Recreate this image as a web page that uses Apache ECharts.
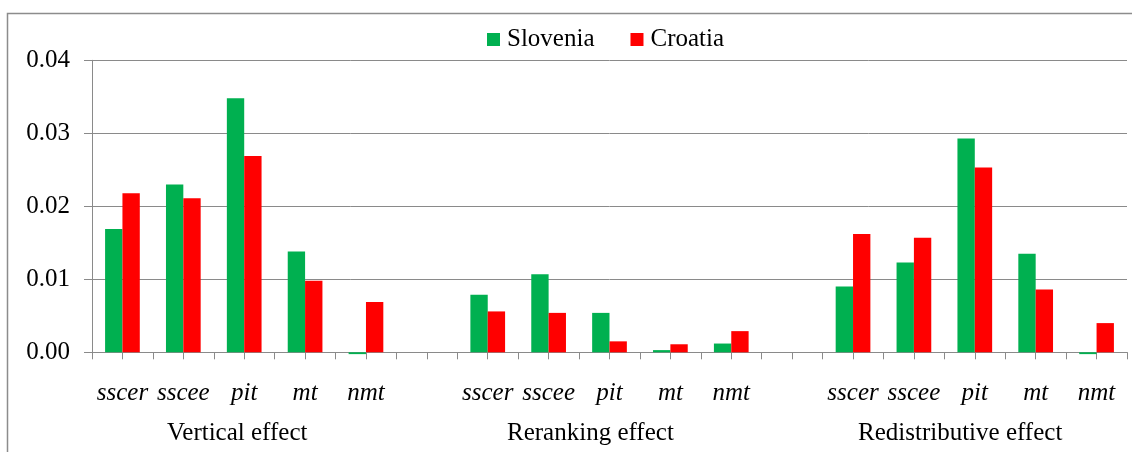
<!DOCTYPE html>
<html>
<head>
<meta charset="utf-8">
<script src="https://cdn.jsdelivr.net/npm/echarts@6/dist/echarts.min.js"></script>
<style>
html,body{margin:0;padding:0;background:#fff;}
#chart{width:1132px;height:452px;}
</style>
</head>
<body>
<div id="chart"></div>
<script>
// ---- data ----
var categories = ['sscer','sscee','pit','mt','nmt','',
                  'sscer','sscee','pit','mt','nmt','',
                  'sscer','sscee','pit','mt','nmt'];
var groupLabels = ['Vertical effect','Reranking effect','Redistributive effect'];
var slovenia = [0.0169, 0.0230, 0.0348, 0.0138, -0.00025, null,
                0.0079, 0.0107, 0.0054, 0.0003, 0.0012, null,
                0.0090, 0.0123, 0.0293, 0.0135, -0.00025];
var croatia  = [0.0218, 0.0211, 0.0269, 0.0098, 0.0069, null,
                0.0056, 0.0054, 0.0015, 0.0011, 0.0029, null,
                0.0162, 0.0157, 0.0253, 0.0086, 0.0040];
var yTicks = [0, 0.01, 0.02, 0.03, 0.04];

var FONT = '"Liberation Serif", "Times New Roman", serif';
var tickSlots = [];
for (var i = 0; i < categories.length * 2; i++) tickSlots.push('');

var chart = echarts.init(document.getElementById('chart'), null, {renderer:'canvas'});
chart.setOption({
  animation: false,
  backgroundColor: '#ffffff',
  textStyle: {fontFamily: FONT},
  legend: {
    data: ['Slovenia','Croatia'],
    left: 482, top: 22,
    itemWidth: 13, itemHeight: 13, itemGap: 36,
    icon: 'rect',
    textStyle: {fontFamily: FONT, fontSize: 25, color: '#000', padding: [2,0,0,2]}
  },
  grid: {left: 92, right: 5, top: 60.3, bottom: 99.7, containLabel: false},
  xAxis: [{
    type: 'category',
    data: categories,
    axisLine: {show: true, lineStyle: {color: '#8a8a8a', width: 1}},
    axisTick: {show: false},
    axisLabel: {interval: 0, margin: 29, fontFamily: FONT, fontSize: 25, fontStyle: 'italic', color: '#000'},
    splitLine: {show: false}
  },{
    type: 'category',
    data: tickSlots,
    position: 'bottom',
    axisLine: {show: true, lineStyle: {color: '#8a8a8a', width: 1}},
    axisTick: {show: true, interval: 0, length: 7, lineStyle: {color: '#8a8a8a'}},
    axisLabel: {show: false},
    splitLine: {show: false}
  }],
  yAxis: {
    type: 'value',
    min: 0, max: 0.04, interval: 0.01,
    axisLine: {show: true, lineStyle: {color: '#8a8a8a', width: 1}},
    axisTick: {show: true, length: 8, lineStyle: {color: '#8a8a8a'}},
    axisLabel: {margin: 22, fontFamily: FONT, fontSize: 25, color: '#000', padding: [4,0,0,0],
      formatter: function(v){ return v.toFixed(2); }},
    splitLine: {show: true, lineStyle: {color: '#8a8a8a', width: 1}}
  },
  series: [{
    name: 'Slovenia', type: 'bar', xAxisIndex: 0, data: slovenia, clip: false,
    barGap: '0%', barCategoryGap: '43%',
    itemStyle: {color: '#00B050'}
  },{
    name: 'Croatia', type: 'bar', xAxisIndex: 0, data: croatia, clip: false,
    barGap: '0%', barCategoryGap: '43%',
    itemStyle: {color: '#FF0000'}
  }],
  graphic: [
    {type:'rect', silent:true, shape:{x:7.5, y:13.5, width:1200, height:600},
     style:{fill:'none', stroke:'#8c8c8c', lineWidth:1.5}, z:-1},
    {type:'text', left:167, top:421, style:{text: groupLabels[0], font:'25px ' + FONT, fill:'#000'}},
    {type:'text', left:507, top:421, style:{text: groupLabels[1], font:'25px ' + FONT, fill:'#000'}},
    {type:'text', left:858, top:421, style:{text: groupLabels[2], font:'25px ' + FONT, fill:'#000'}}
  ]
});
</script>
</body>
</html>
